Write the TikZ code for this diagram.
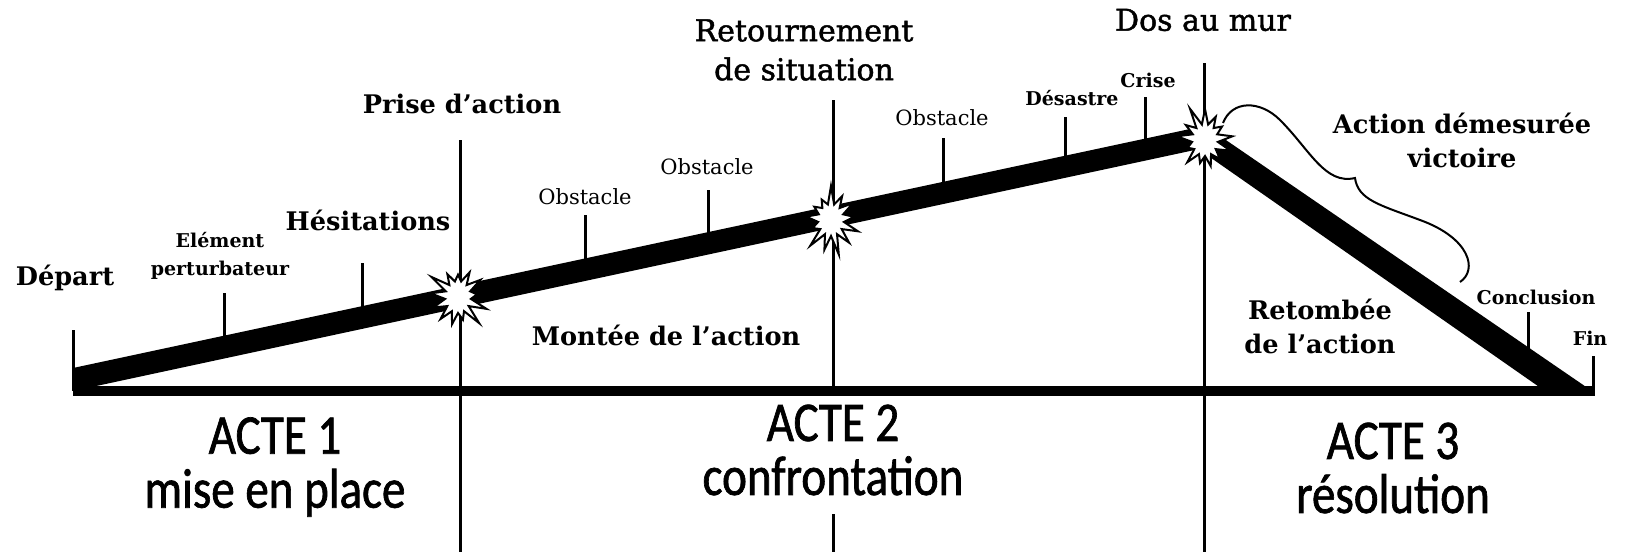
\documentclass[tikz,border=0pt]{standalone}
\usepackage{fontspec}
\setmainfont{DejaVu Serif}
\newfontfamily\midfont[FakeBold=1.5]{DejaVu Serif}
\newfontfamily\actefont[FakeStretch=0.84,FakeBold=1.2]{Carlito}
\usetikzlibrary{shapes.symbols}

\begin{document}
\begin{tikzpicture}[
  x=0.5pt,
  y=-0.5pt,
  line cap=butt,
  line join=miter,
  tick/.style={
    draw=black,
    line width=1.5pt
  },
  divider/.style={
    draw=black,
    line width=1.5pt
  },
  axis/.style={
    draw=black,
    line width=5pt
  },
  burst/.style={
    shape=starburst,
    draw=black,
    fill=white,
    line width=1pt,
    inner sep=0pt,
    minimum width=33pt,
    minimum height=36pt,
    starburst points=13,
    starburst point height=10pt
  },
  title/.style={
    inner sep=0pt,
    align=center,
    font=\bfseries\fontsize{12.8}{17}\selectfont
  },
  small/.style={
    inner sep=0pt,
    align=center,
    font=\bfseries\fontsize{9.5}{14}\selectfont
  },
  obstacle/.style={
    inner sep=0pt,
    font=\fontsize{10.5}{12}\selectfont
  },
  turn/.style={
    inner sep=0pt,
    align=center,
    font=\midfont\fontsize{15}{19.5}\selectfont
  },
  acte/.style={
    inner sep=0pt,
    align=center,
    font=\actefont\fontsize{28}{27}\selectfont
  }
]

  \path[use as bounding box]
    (0,0) rectangle (1627,557);

  % parametres
  \def\ybase{391}

  % extremites de l'axe
  \coordinate (debut) at (73,\ybase);
  \coordinate (fin) at (1595,\ybase);

  % separations des actes
  \draw[divider] (460,140) -- (460,552);
  \draw[divider] (833,100) -- (833,\ybase);
  \draw[divider] (833,514) -- (833,552);
  \draw[divider] (1204,63) -- (1204,552);

  % reperes sur la montee
  \foreach \x/\y in {224/293, 362/263, 585/215, 708/190, 943/138, 1065/117, 1145/97}
    \draw[tick] (\x,\y) -- (\x,{368-0.214*(\x-73)+6});

  % reperes de depart et de fin
  \draw[tick] (debut) -- (73,330);
  \draw[tick] (1528,312) -- (1528,352);
  \draw[tick] (1593,356) -- (1593,\ybase);

  % axe horizontal
  \draw[axis] (debut) -- (fin);

  % montee de l'action
  \fill (73,368) -- (1204,126) -- (1204,148) -- (73,391) -- cycle;

  % retombee de l'action
  \fill (1204,125) -- (1592,391) -- (1545,391) -- (1204,153) -- cycle;

  % points de rupture
  \node[burst, random starburst=3] (choc1) at (458,297) {};
  \node[burst, random starburst=7] (choc2) at (831,220) {};
  \node[burst, random starburst=11] (choc3) at (1205,140) {};

  % accolade
  \draw[line width=1pt]
    (1223,123)
    .. controls (1232,100) and (1260,100) .. (1280,120)
    .. controls (1310,150) and (1325,185) .. (1355,178)
    .. controls (1358,200) and (1380,205) .. (1420,220)
    .. controls (1470,238) and (1478,270) .. (1460,282);

  % etiquettes
  \node[title] (depart) at (65,278) {Départ};
  \node[small] (perturb) at (220,256) {Elément\\perturbateur};
  \node[title] (hesit) at (368,220) {Hésitations};
  \node[title] (prise) at (462,104) {Prise d'action};
  \node[obstacle] (obst1) at (585,197) {Obstacle};
  \node[obstacle] (obst2) at (707,167) {Obstacle};
  \node[obstacle] (obst3) at (942,118) {Obstacle};
  \node[title] (montee) at (666,335) {Montée de l'action};
  \node[turn] (retour) at (804,50) {Retournement\\de situation};
  \node[small] (desastre) at (1072,98) {Désastre};
  \node[small] (crise) at (1148,80) {Crise};
  \node[turn] (dos) at (1203,20) {Dos au mur};
  \node[title] (demesure) at (1462,140) {Action démesurée\\victoire};
  \node[title] (retombee) at (1320,326) {Retombée\\de l'action};
  \node[small] (conclu) at (1536,297) {Conclusion};
  \node[small] (finlab) at (1590,338) {Fin};

  % actes
  \node[acte] (acte1) at (275,467) {ACTE 1\\mise en place};
  \node[acte] (acte2) at (833,450) {ACTE 2\\confrontation};
  \node[acte] (acte3) at (1393,468) {ACTE 3\\résolution};

\end{tikzpicture}
\end{document}
